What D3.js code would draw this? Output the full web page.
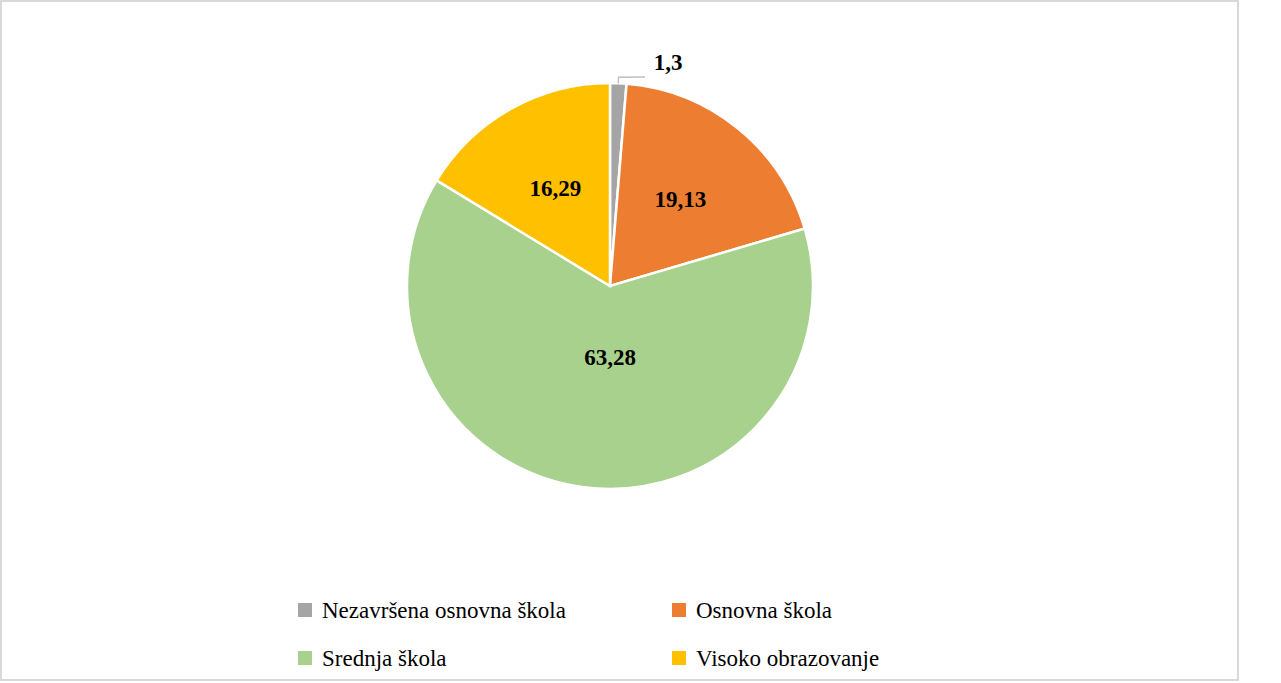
<!DOCTYPE html>
<html><head><meta charset="utf-8">
<script src="https://cdn.jsdelivr.net/npm/d3@7"></script>
<style>body{margin:0;background:#fff}svg{display:block}</style>
</head><body>
<script>
const categories = ["Nezavršena osnovna škola","Osnovna škola","Srednja škola","Visoko obrazovanje"];
const values = [1.3, 19.13, 63.28, 16.29];
const labels = ["1,3","19,13","63,28","16,29"];
const colors = ["#a5a5a5","#ed7d31","#a9d18e","#ffc000"];

const W=1281,H=683;
const svg=d3.select("body").append("svg").attr("width",W).attr("height",H);
svg.append("rect").attr("x",1).attr("y",1).attr("width",1237).attr("height",679).attr("fill","#fff").attr("stroke","#d9d9d9").attr("stroke-width",2);
const cx=610,cy=286,r=203;
const pie=d3.pie().sort(null).value(d=>d)(values);
const arc=d3.arc().innerRadius(0).outerRadius(r);
const g=svg.append("g").attr("transform",`translate(${cx},${cy})`);
g.selectAll("path").data(pie).join("path").attr("d",arc).attr("fill",(d,i)=>colors[i]).attr("stroke","#fff").attr("stroke-width",2.5);
const lab=d3.arc().innerRadius(r*0.55).outerRadius(r*0.55);
const font="'Liberation Serif','Times New Roman',serif";
g.selectAll("text.v").data(pie).join("text").attr("class","v")
 .attr("transform",(d,i)=>{
   if(i===0) return `translate(58,${-224})`;
   let [x,y]=lab.centroid(d); if(i===2){x=0;y=71;} return `translate(${x},${y})`;})
 .attr("text-anchor","middle").attr("dominant-baseline","central")
 .attr("font-family",font).attr("font-weight","bold").attr("font-size",23).attr("fill","#000")
 .text((d,i)=>labels[i]);
// leader line for small slice
const a0=pie[0], mid=(a0.startAngle+a0.endAngle)/2;
g.append("polyline").attr("points",`${Math.sin(mid)*r},${-Math.cos(mid)*r} ${Math.sin(mid)*(r+6)},${-Math.cos(mid)*(r+6)} 35,${-(r+6)}`)
 .attr("fill","none").attr("stroke","#bfbfbf").attr("stroke-width",1.5);
// legend
const pos=[[298,610],[672,610],[298,658],[672,658]];
const lg=svg.selectAll("g.l").data(categories).join("g").attr("class","l").attr("transform",(d,i)=>`translate(${pos[i][0]},${pos[i][1]})`);
lg.append("rect").attr("x",0).attr("y",-7).attr("width",14).attr("height",14).attr("fill",(d,i)=>colors[i]);
lg.append("text").attr("x",24).attr("y",0).attr("dominant-baseline","central").attr("font-family",font).attr("font-size",23).attr("fill","#000").text(d=>d);
</script>
</body></html>
